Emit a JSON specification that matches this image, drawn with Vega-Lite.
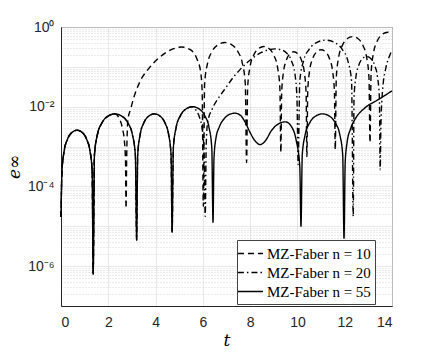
{
"$schema": "https://vega.github.io/schema/vega-lite/v6.json",
"width": 331, "height": 279,
"autosize": {"type": "none"},
"padding": {"left": 61, "top": 27, "right": 42, "bottom": 48},
"background": "white",
"config": {
 "view": {"stroke": "#262626", "strokeWidth": 1},
 "axis": {"labelFont": "Liberation Sans", "labelFontSize": 14, "labelColor": "#262626", "domainColor": "#262626", "tickColor": "#262626", "titleFont": "DejaVu Serif", "titleFontStyle": "italic", "titleFontWeight": "normal", "titleFontSize": 17, "titleColor": "#000000"}
},
"data": {"values": [
{"t":0,"e":1.7e-5,"n":"55"},{"t":0.041,"e":2.4e-4,"n":"55"},{"t":0.136,"e":7.9e-4,"n":"55"},{"t":0.272,"e":1.51e-3,"n":"55"},{"t":0.476,"e":2.29e-3,"n":"55"},{"t":0.68,"e":2.57e-3,"n":"55"},{"t":0.884,"e":2.29e-3,"n":"55"},{"t":1.088,"e":1.51e-3,"n":"55"},{"t":1.224,"e":7.9e-4,"n":"55"},{"t":1.319,"e":2.4e-4,"n":"55"},{"t":1.36,"e":6.3e-7,"n":"55"},
{"t":1.415,"e":6.2e-4,"n":"55"},{"t":1.544,"e":2.04e-3,"n":"55"},{"t":1.728,"e":3.89e-3,"n":"55"},{"t":2.004,"e":5.89e-3,"n":"55"},{"t":2.28,"e":6.61e-3,"n":"55"},{"t":2.556,"e":5.89e-3,"n":"55"},{"t":2.832,"e":3.89e-3,"n":"55"},{"t":3.016,"e":2.04e-3,"n":"55"},{"t":3.145,"e":6.2e-4,"n":"55"},{"t":3.2,"e":4.5e-6,"n":"55"},
{"t":3.245,"e":6.2e-4,"n":"55"},{"t":3.35,"e":2.04e-3,"n":"55"},{"t":3.5,"e":3.89e-3,"n":"55"},{"t":3.725,"e":5.89e-3,"n":"55"},{"t":3.95,"e":6.61e-3,"n":"55"},{"t":4.175,"e":5.89e-3,"n":"55"},{"t":4.4,"e":3.89e-3,"n":"55"},{"t":4.55,"e":2.04e-3,"n":"55"},{"t":4.655,"e":6.2e-4,"n":"55"},{"t":4.7,"e":7.1e-6,"n":"55"},
{"t":4.752,"e":9.3e-4,"n":"55"},{"t":4.873,"e":3.09e-3,"n":"55"},{"t":5.046,"e":5.89e-3,"n":"55"},{"t":5.306,"e":8.91e-3,"n":"55"},{"t":5.565,"e":1.0e-2,"n":"55"},{"t":5.825,"e":8.91e-3,"n":"55"},{"t":6.084,"e":5.89e-3,"n":"55"},{"t":6.257,"e":3.09e-3,"n":"55"},{"t":6.378,"e":9.3e-4,"n":"55"},{"t":6.43,"e":1.26e-5,"n":"55"},
{"t":6.47,"e":5.0e-4,"n":"55"},{"t":6.55,"e":1.58e-3,"n":"55"},{"t":6.7,"e":3.16e-3,"n":"55"},{"t":6.9,"e":5.0e-3,"n":"55"},{"t":7.1,"e":6.3e-3,"n":"55"},{"t":7.35,"e":6.9e-3,"n":"55"},{"t":7.6,"e":6.0e-3,"n":"55"},{"t":7.8,"e":3.98e-3,"n":"55"},{"t":8.0,"e":2.24e-3,"n":"55"},{"t":8.2,"e":1.41e-3,"n":"55"},{"t":8.42,"e":1.12e-3,"n":"55"},{"t":8.65,"e":1.41e-3,"n":"55"},{"t":8.9,"e":2.51e-3,"n":"55"},{"t":9.2,"e":3.72e-3,"n":"55"},{"t":9.5,"e":4.17e-3,"n":"55"},{"t":9.75,"e":3.16e-3,"n":"55"},{"t":9.95,"e":1.41e-3,"n":"55"},{"t":10.1,"e":3.16e-4,"n":"55"},{"t":10.15,"e":1.0e-5,"n":"55"},
{"t":10.205,"e":6.2e-4,"n":"55"},{"t":10.332,"e":2.04e-3,"n":"55"},{"t":10.514,"e":3.89e-3,"n":"55"},{"t":10.787,"e":5.89e-3,"n":"55"},{"t":11.06,"e":6.61e-3,"n":"55"},{"t":11.333,"e":5.89e-3,"n":"55"},{"t":11.606,"e":3.89e-3,"n":"55"},{"t":11.788,"e":2.04e-3,"n":"55"},{"t":11.915,"e":6.2e-4,"n":"55"},{"t":11.97,"e":5.0e-6,"n":"55"},
{"t":12.02,"e":4.0e-4,"n":"55"},{"t":12.1,"e":1.26e-3,"n":"55"},{"t":12.25,"e":2.82e-3,"n":"55"},{"t":12.45,"e":5.0e-3,"n":"55"},{"t":12.85,"e":9.3e-3,"n":"55"},{"t":13.4,"e":1.48e-2,"n":"55"},{"t":14.0,"e":2.5e-2,"n":"55"},

{"t":0,"e":1.7e-5,"n":"10"},{"t":0.041,"e":2.4e-4,"n":"10"},{"t":0.136,"e":7.9e-4,"n":"10"},{"t":0.272,"e":1.51e-3,"n":"10"},{"t":0.476,"e":2.29e-3,"n":"10"},{"t":0.68,"e":2.57e-3,"n":"10"},{"t":0.884,"e":2.29e-3,"n":"10"},{"t":1.088,"e":1.51e-3,"n":"10"},{"t":1.224,"e":7.9e-4,"n":"10"},{"t":1.319,"e":2.4e-4,"n":"10"},{"t":1.36,"e":6.3e-7,"n":"10"},
{"t":1.415,"e":6.2e-4,"n":"10"},{"t":1.544,"e":2.04e-3,"n":"10"},{"t":1.728,"e":3.89e-3,"n":"10"},{"t":2.004,"e":5.89e-3,"n":"10"},{"t":2.28,"e":6.61e-3,"n":"10"},
{"t":2.45,"e":5.25e-3,"n":"10"},{"t":2.6,"e":2.82e-3,"n":"10"},{"t":2.68,"e":1.41e-3,"n":"10"},{"t":2.73,"e":3.98e-4,"n":"10"},{"t":2.75,"e":2.8e-5,"n":"10"},{"t":2.78,"e":6.3e-4,"n":"10"},{"t":2.83,"e":4.7e-3,"n":"10"},{"t":2.95,"e":8.9e-3,"n":"10"},{"t":3.05,"e":1.48e-2,"n":"10"},{"t":3.34,"e":4.27e-2,"n":"10"},{"t":3.7,"e":8.9e-2,"n":"10"},{"t":4.19,"e":1.78e-1,"n":"10"},{"t":4.74,"e":2.82e-1,"n":"10"},{"t":5.1,"e":3.16e-1,"n":"10"},{"t":5.45,"e":2.75e-1,"n":"10"},{"t":5.75,"e":1.58e-1,"n":"10"},{"t":5.9,"e":7.9e-2,"n":"10"},{"t":5.97,"e":2.5e-2,"n":"10"},{"t":6.02,"e":3.16e-5,"n":"10"},
{"t":6.075,"e":3.8e-2,"n":"10"},{"t":6.203,"e":1.26e-1,"n":"10"},{"t":6.386,"e":2.4e-1,"n":"10"},{"t":6.661,"e":3.63e-1,"n":"10"},{"t":6.935,"e":4.07e-1,"n":"10"},{"t":7.21,"e":3.63e-1,"n":"10"},{"t":7.484,"e":2.4e-1,"n":"10"},{"t":7.667,"e":1.26e-1,"n":"10"},{"t":7.795,"e":3.8e-2,"n":"10"},{"t":7.85,"e":4.0e-4,"n":"10"},
{"t":7.894,"e":3.0e-2,"n":"10"},{"t":7.995,"e":1.0e-1,"n":"10"},{"t":8.14,"e":1.9e-1,"n":"10"},{"t":8.358,"e":2.88e-1,"n":"10"},{"t":8.575,"e":3.24e-1,"n":"10"},{"t":8.793,"e":2.88e-1,"n":"10"},{"t":9.01,"e":1.9e-1,"n":"10"},{"t":9.155,"e":1.0e-1,"n":"10"},{"t":9.257,"e":3.0e-2,"n":"10"},{"t":9.3,"e":7.1e-4,"n":"10"},
{"t":9.333,"e":2.24e-2,"n":"10"},{"t":9.41,"e":7.4e-2,"n":"10"},{"t":9.52,"e":1.41e-1,"n":"10"},{"t":9.685,"e":2.14e-1,"n":"10"},{"t":9.85,"e":2.4e-1,"n":"10"},{"t":10.015,"e":2.14e-1,"n":"10"},{"t":10.18,"e":1.41e-1,"n":"10"},{"t":10.29,"e":7.4e-2,"n":"10"},{"t":10.367,"e":2.24e-2,"n":"10"},{"t":10.4,"e":5.6e-4,"n":"10"},
{"t":10.436,"e":2.5e-2,"n":"10"},{"t":10.52,"e":8.3e-2,"n":"10"},{"t":10.64,"e":1.58e-1,"n":"10"},{"t":10.82,"e":2.4e-1,"n":"10"},{"t":11.0,"e":2.69e-1,"n":"10"},{"t":11.18,"e":2.4e-1,"n":"10"},{"t":11.36,"e":1.58e-1,"n":"10"},{"t":11.48,"e":8.3e-2,"n":"10"},{"t":11.564,"e":2.5e-2,"n":"10"},{"t":11.6,"e":8.3e-4,"n":"10"},
{"t":11.644,"e":5.4e-2,"n":"10"},{"t":11.747,"e":1.78e-1,"n":"10"},{"t":11.894,"e":3.39e-1,"n":"10"},{"t":12.115,"e":5.13e-1,"n":"10"},{"t":12.335,"e":5.75e-1,"n":"10"},{"t":12.556,"e":5.13e-1,"n":"10"},{"t":12.776,"e":3.39e-1,"n":"10"},{"t":12.923,"e":1.78e-1,"n":"10"},{"t":13.026,"e":5.4e-2,"n":"10"},{"t":13.07,"e":1.26e-3,"n":"10"},
{"t":13.115,"e":6.9e-2,"n":"10"},{"t":13.22,"e":2.29e-1,"n":"10"},{"t":13.37,"e":4.37e-1,"n":"10"},{"t":13.595,"e":6.6e-1,"n":"10"},{"t":13.82,"e":7.4e-1,"n":"10"},{"t":14.0,"e":6.9e-1,"n":"10"},

{"t":0,"e":1.7e-5,"n":"20"},{"t":0.041,"e":2.4e-4,"n":"20"},{"t":0.136,"e":7.9e-4,"n":"20"},{"t":0.272,"e":1.51e-3,"n":"20"},{"t":0.476,"e":2.29e-3,"n":"20"},{"t":0.68,"e":2.57e-3,"n":"20"},{"t":0.884,"e":2.29e-3,"n":"20"},{"t":1.088,"e":1.51e-3,"n":"20"},{"t":1.224,"e":7.9e-4,"n":"20"},{"t":1.319,"e":2.4e-4,"n":"20"},{"t":1.36,"e":6.3e-7,"n":"20"},
{"t":1.415,"e":6.2e-4,"n":"20"},{"t":1.544,"e":2.04e-3,"n":"20"},{"t":1.728,"e":3.89e-3,"n":"20"},{"t":2.004,"e":5.89e-3,"n":"20"},{"t":2.28,"e":6.61e-3,"n":"20"},{"t":2.556,"e":5.89e-3,"n":"20"},{"t":2.832,"e":3.89e-3,"n":"20"},{"t":3.016,"e":2.04e-3,"n":"20"},{"t":3.145,"e":6.2e-4,"n":"20"},{"t":3.2,"e":4.5e-6,"n":"20"},
{"t":3.245,"e":6.2e-4,"n":"20"},{"t":3.35,"e":2.04e-3,"n":"20"},{"t":3.5,"e":3.89e-3,"n":"20"},{"t":3.725,"e":5.89e-3,"n":"20"},{"t":3.95,"e":6.61e-3,"n":"20"},{"t":4.175,"e":5.89e-3,"n":"20"},{"t":4.4,"e":3.89e-3,"n":"20"},{"t":4.55,"e":2.04e-3,"n":"20"},{"t":4.655,"e":6.2e-4,"n":"20"},{"t":4.7,"e":7.1e-6,"n":"20"},
{"t":4.752,"e":9.3e-4,"n":"20"},{"t":4.873,"e":3.09e-3,"n":"20"},{"t":5.046,"e":5.89e-3,"n":"20"},{"t":5.306,"e":8.91e-3,"n":"20"},{"t":5.565,"e":1.0e-2,"n":"20"},
{"t":5.7,"e":8.3e-3,"n":"20"},{"t":5.85,"e":5.6e-3,"n":"20"},{"t":5.97,"e":2.82e-3,"n":"20"},{"t":6.05,"e":7.9e-4,"n":"20"},{"t":6.1,"e":1.78e-5,"n":"20"},{"t":6.14,"e":1.0e-3,"n":"20"},{"t":6.2,"e":4.0e-3,"n":"20"},{"t":6.4,"e":8.9e-3,"n":"20"},{"t":6.7,"e":1.78e-2,"n":"20"},{"t":7.0,"e":3.16e-2,"n":"20"},{"t":7.3,"e":5.6e-2,"n":"20"},{"t":7.6,"e":8.9e-2,"n":"20"},{"t":7.9,"e":1.32e-1,"n":"20"},{"t":8.2,"e":1.82e-1,"n":"20"},{"t":8.5,"e":2.34e-1,"n":"20"},{"t":8.8,"e":2.69e-1,"n":"20"},{"t":9.05,"e":2.82e-1,"n":"20"},{"t":9.3,"e":2.69e-1,"n":"20"},{"t":9.55,"e":2.19e-1,"n":"20"},{"t":9.75,"e":1.41e-1,"n":"20"},{"t":9.9,"e":6.3e-2,"n":"20"},{"t":9.98,"e":1.58e-2,"n":"20"},{"t":10.03,"e":3.55e-4,"n":"20"},
{"t":10.1,"e":4.4e-2,"n":"20"},{"t":10.263,"e":1.45e-1,"n":"20"},{"t":10.496,"e":2.75e-1,"n":"20"},{"t":10.846,"e":4.17e-1,"n":"20"},{"t":11.195,"e":4.68e-1,"n":"20"},{"t":11.545,"e":4.17e-1,"n":"20"},{"t":11.894,"e":2.75e-1,"n":"20"},{"t":12.127,"e":1.45e-1,"n":"20"},{"t":12.29,"e":4.4e-2,"n":"20"},{"t":12.36,"e":1.78e-5,"n":"20"},
{"t":12.394,"e":1.7e-2,"n":"20"},{"t":12.474,"e":5.6e-2,"n":"20"},{"t":12.588,"e":1.07e-1,"n":"20"},{"t":12.759,"e":1.62e-1,"n":"20"},{"t":12.93,"e":1.82e-1,"n":"20"},{"t":13.101,"e":1.62e-1,"n":"20"},{"t":13.272,"e":1.07e-1,"n":"20"},{"t":13.386,"e":5.6e-2,"n":"20"},{"t":13.466,"e":1.7e-2,"n":"20"},{"t":13.5,"e":2.6e-4,"n":"20"},
{"t":13.53,"e":3.16e-3,"n":"20"},{"t":13.6,"e":2.5e-2,"n":"20"},{"t":13.75,"e":1.0e-1,"n":"20"},{"t":13.9,"e":1.9e-1,"n":"20"},{"t":14.0,"e":2.63e-1,"n":"20"}
]},
"layer": [
 {
  "mark": {"type": "line", "opacity": 0},
  "encoding": {
   "x": {"field": "t", "type": "quantitative", "scale": {"domain": [0, 14], "nice": false},
    "axis": {"values": [0,2,4,6,8,10,12,14], "grid": true, "gridColor": "#e2e2e2", "gridWidth": 0.8, "ticks": false, "labelPadding": 9, "title": "t", "titlePadding": 3}},
   "y": {"field": "e", "type": "quantitative", "scale": {"type": "log", "domain": [1e-7, 1], "nice": false},
    "axis": {"orient": "right", "values": [2e-7,3e-7,4e-7,5e-7,6e-7,7e-7,8e-7,9e-7,2e-6,3e-6,4e-6,5e-6,6e-6,7e-6,8e-6,9e-6,2e-5,3e-5,4e-5,5e-5,6e-5,7e-5,8e-5,9e-5,2e-4,3e-4,4e-4,5e-4,6e-4,7e-4,8e-4,9e-4,2e-3,3e-3,4e-3,5e-3,6e-3,7e-3,8e-3,9e-3,2e-2,3e-2,4e-2,5e-2,6e-2,7e-2,8e-2,9e-2,0.2,0.3,0.4,0.5,0.6,0.7,0.8,0.9],
     "grid": true, "gridColor": "#c8c8c8", "gridDash": [1, 2], "gridWidth": 0.7, "labels": false, "ticks": false, "domain": false, "title": null}},
   "detail": {"field": "n", "type": "nominal"}
  }
 },
 {
  "mark": {"type": "line", "color": "black", "strokeWidth": 1.4, "interpolate": "monotone"},
  "encoding": {
   "x": {"field": "t", "type": "quantitative", "scale": {"domain": [0, 14], "nice": false},
    "axis": {"values": [0,2,4,6,8,10,12,14], "grid": true, "gridColor": "#e2e2e2", "gridWidth": 0.8, "ticks": false, "labelPadding": 9, "title": "t", "titlePadding": 3}},
   "y": {"field": "e", "type": "quantitative", "scale": {"type": "log", "domain": [1e-7, 1], "nice": false},
    "axis": {"values": [1e-7,1e-6,1e-5,1e-4,1e-3,1e-2,1e-1,1], "grid": true, "gridColor": "#e2e2e2", "gridWidth": 0.8, "ticks": false, "labelPadding": 7,
     "labelExpr": "datum.value > 0.5 ? '10⁰' : (datum.value > 0.005 && datum.value < 0.05) ? '10⁻²' : (datum.value > 5e-5 && datum.value < 5e-4) ? '10⁻⁴' : (datum.value > 5e-7 && datum.value < 5e-6) ? '10⁻⁶' : ''",
     "title": "e∞", "titlePadding": 4}},
   "strokeDash": {"field": "n", "type": "nominal",
    "scale": {"domain": ["10", "20", "55"], "range": [[6, 4], [6, 3, 1.5, 3], [1, 0]]},
    "legend": {"orient": "none", "legendX": 176, "legendY": 213, "title": null, "symbolType": "M-1.45,0H1.45", "symbolStrokeColor": "black", "symbolStrokeWidth": 1.4, "symbolSize": 300,
     "labelFont": "Liberation Serif", "labelFontSize": 15, "labelColor": "black", "labelExpr": "'MZ-Faber n = ' + datum.label", "labelLimit": 300,
     "fillColor": "white", "strokeColor": "#444444", "padding": 4, "rowPadding": 1, "labelOffset": 7}}
  }
 }
],
"resolve": {"scale": {"y": "independent"}}
}
